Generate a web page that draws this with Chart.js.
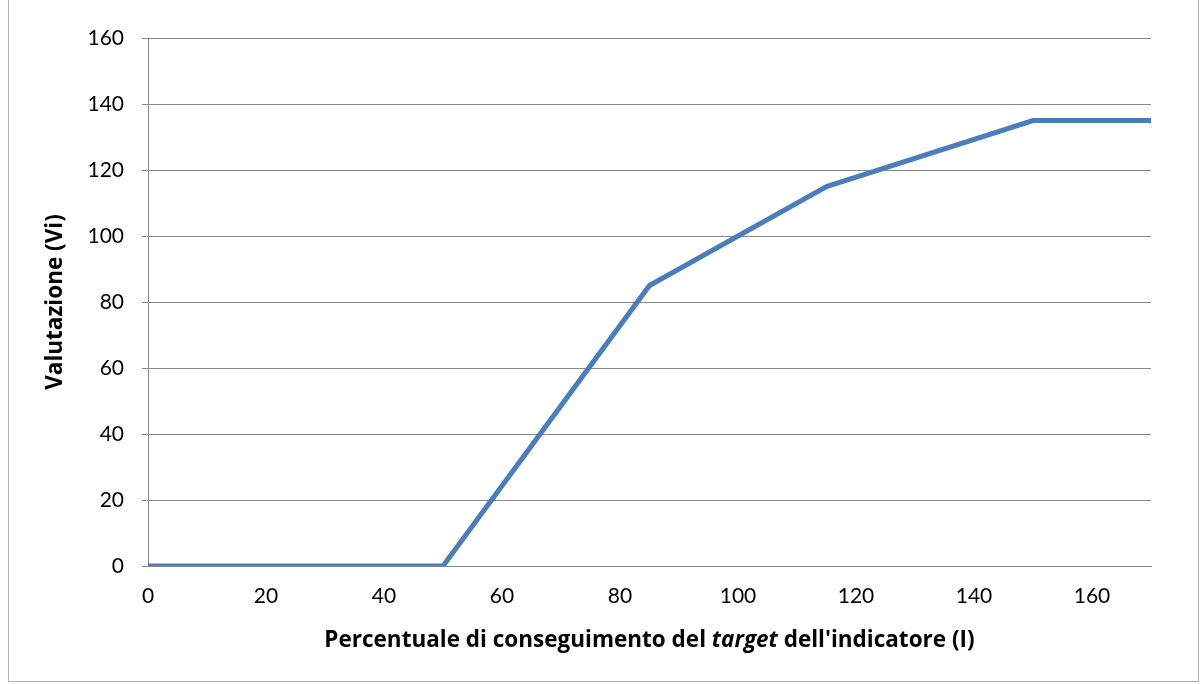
<!DOCTYPE html>
<html>
<head>
<meta charset="utf-8">
<script src="https://cdn.jsdelivr.net/npm/chart.js@4"></script>
<style>
  body { margin: 0; background: #fff; }
  #frame { position: absolute; left: 8px; top: -2px; width: 1189px; height: 682px; border: 1px solid #b0b0b0; }
  #wrap { position: absolute; left: 0; top: 0; width: 1200px; height: 684px; }
  #xtitle { position: absolute; left: 148px; width: 1003px; top: 623px; text-align: center;
    font: bold 22.5px "Open Sans", sans-serif; color: #000; }
</style>
</head>
<body>
<div id="frame"></div>
<div id="wrap"><canvas id="chart" width="1200" height="684"></canvas></div>
<div id="xtitle">Percentuale di conseguimento del <i>target</i> dell'indicatore (I)</div>
<script>
const percent = [0, 50, 85, 115, 150, 170];
const score = [0, 0, 85, 115, 135, 135];
const xTicks = [0, 20, 40, 60, 80, 100, 120, 140, 160];

const points = percent.map((x, i) => ({ x: x, y: score[i] }));
const font = { family: "Lato, 'Open Sans', sans-serif", size: 21 };

const ctx = document.getElementById("chart").getContext("2d");

new Chart(ctx, {
  type: "line",
  data: {
    datasets: [{
      data: points,
      borderColor: "#4a7ebb",
      borderWidth: 5,
      pointRadius: 0,
      tension: 0
    }]
  },
  options: {
    responsive: false,
    animation: false,
    layout: { padding: { top: 38, right: 49, left: 0, bottom: 0 } },
    plugins: { legend: { display: false }, tooltip: { enabled: false } },
    scales: {
      x: {
        type: "linear",
        min: 0,
        max: 170,
        afterBuildTicks: (axis) => { axis.ticks = xTicks.map(v => ({ value: v })); },
        afterFit: (axis) => { axis.height = 118; },
        grid: { display: false, drawTicks: true },
        border: { color: "#888", width: 1 },
        ticks: { color: "#000", font: font, padding: 10, maxRotation: 0 }
      },
      y: {
        min: 0,
        max: 160,
        afterFit: (axis) => { axis.width = 148; },
        grid: { color: "#888", lineWidth: 1, tickLength: 6 },
        border: { color: "#888", width: 1 },
        ticks: { stepSize: 20, color: "#000", font: font, padding: 18 },
        title: {
          display: true,
          text: "Valutazione (Vi)",
          color: "#000",
          font: { family: "'Open Sans', sans-serif", size: 22.5, weight: "bold" },
          padding: { top: 42, bottom: 0 }
        }
      }
    }
  }
});
</script>
</body>
</html>
